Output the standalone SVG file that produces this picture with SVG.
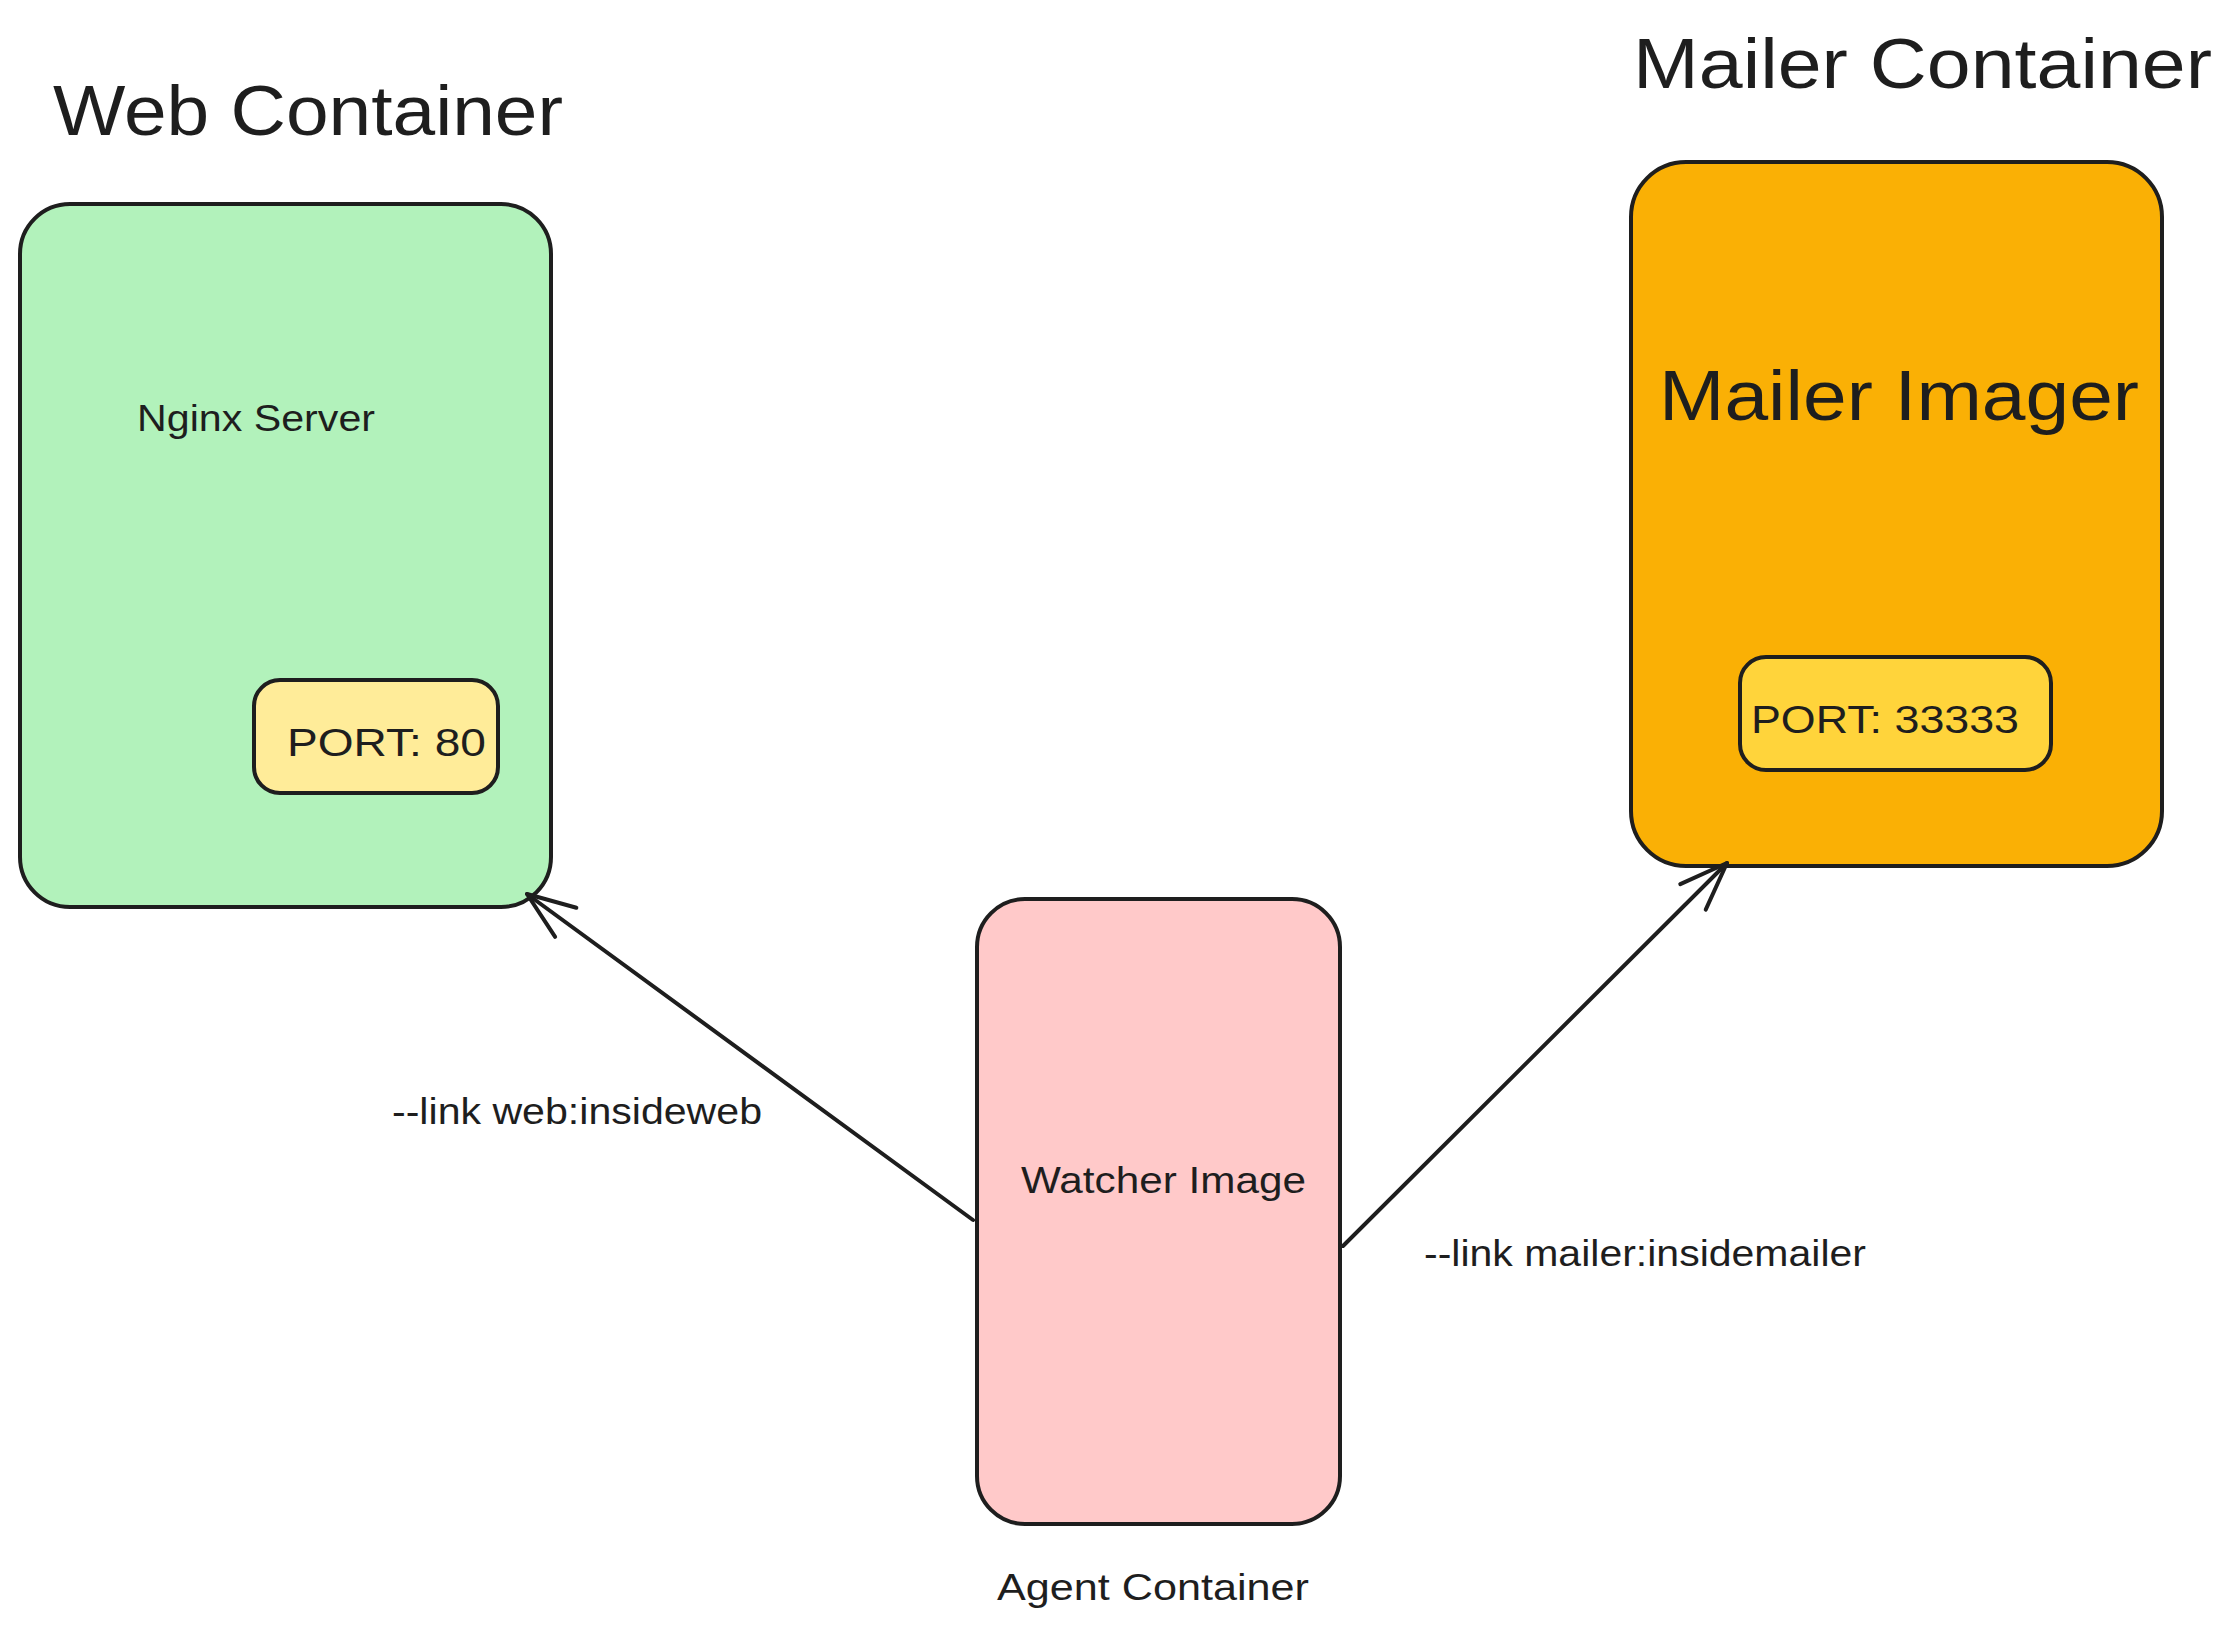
<svg xmlns="http://www.w3.org/2000/svg" width="2233" height="1635" viewBox="0 0 2233 1635">
<defs>
<style>
.box{stroke:#1e1e1e;stroke-width:4;stroke-linejoin:round}
.t{font-family:"Liberation Sans","Noto Sans",sans-serif;fill:#1e1e1e}
.big{font-size:70px}
.sm{font-size:36px}
.conn{fill:none;stroke:#1e1e1e;stroke-width:4;stroke-linecap:round}
</style>
<marker id="arr" markerUnits="userSpaceOnUse" markerWidth="80" markerHeight="80" refX="0" refY="0" viewBox="-60 -40 70 80" orient="auto">
<path d="M-48,-18 L0,0 L-48,18" fill="none" stroke="#1e1e1e" stroke-width="4" stroke-linecap="round" stroke-linejoin="round"/>
</marker>
</defs>
<rect width="2233" height="1635" fill="#ffffff"/>

<g id="web-title"><text class="t big" x="53" y="135" textLength="510" lengthAdjust="spacingAndGlyphs">Web Container</text></g>
<g id="web-container">
<rect class="box" x="20" y="204" width="531" height="703" rx="50" fill="#b2f2bb"/>
<text class="t sm" x="137" y="431" textLength="238" lengthAdjust="spacingAndGlyphs">Nginx Server</text>
</g>
<g id="web-port">
<rect class="box" x="254" y="680" width="244" height="113" rx="26" fill="#ffec99"/>
<text class="t" font-size="38" x="287" y="756" textLength="199" lengthAdjust="spacingAndGlyphs">PORT: 80</text>
</g>

<g id="mailer-title"><text class="t big" x="1633" y="88" textLength="579" lengthAdjust="spacingAndGlyphs">Mailer Container</text></g>
<g id="mailer-container">
<rect class="box" x="1631" y="162" width="531" height="704" rx="55" fill="#fab005"/>
<text class="t big" x="1659" y="420" textLength="480" lengthAdjust="spacingAndGlyphs">Mailer Imager</text>
</g>
<g id="mailer-port">
<rect class="box" x="1740" y="657" width="311" height="113" rx="26" fill="#ffd43b"/>
<text class="t" font-size="38" x="1751" y="733" textLength="268" lengthAdjust="spacingAndGlyphs">PORT: 33333</text>
</g>

<g id="agent-container">
<rect class="box" x="977" y="899" width="363" height="625" rx="48" fill="#ffc9c9"/>
<text class="t sm" x="1021" y="1193" textLength="285" lengthAdjust="spacingAndGlyphs">Watcher Image</text>
</g>
<g id="agent-title"><text class="t sm" x="997" y="1600" textLength="312" lengthAdjust="spacingAndGlyphs">Agent Container</text></g>

<g id="connectors">
<path class="conn" d="M973,1220 L527,894" marker-end="url(#arr)"/>
<path class="conn" d="M1343,1246 L1727,863" marker-end="url(#arr)"/>
<text class="t sm" x="392" y="1124" textLength="370" lengthAdjust="spacingAndGlyphs">--link web:insideweb</text>
<text class="t sm" x="1424" y="1266" textLength="442" lengthAdjust="spacingAndGlyphs">--link mailer:insidemailer</text>
</g>
</svg>
